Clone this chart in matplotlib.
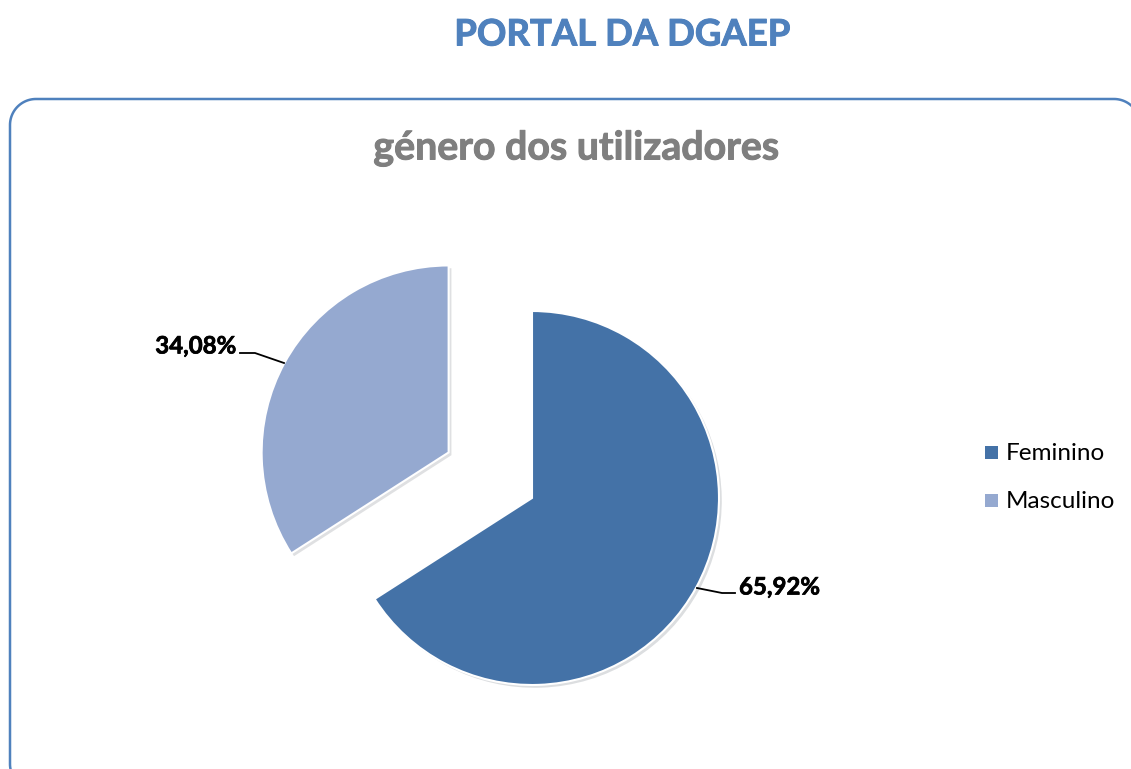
import matplotlib
matplotlib.use("Agg")
import numpy as np
import matplotlib.pyplot as plt
from matplotlib.patches import Rectangle
import matplotlib.patheffects as pe

# data
categories = ["Feminino", "Masculino"]
values = [65.92, 34.08]
value_labels = ["65,92%", "34,08%"]
colors = ["#4472A7", "#95A9D0"]

W, H = 1131, 769
fig = plt.figure(figsize=(W / 100, H / 100), dpi=100)
ax = fig.add_axes([0, 0, 1, 1])


def py(y):
    return H - y


FONT = ["Lato", "DejaVu Sans"]


def bold_fx(color, lw=0.6):
    return [pe.withStroke(linewidth=lw, foreground=color)]


# pie
cx, cy, r = 532, py(498), 187
wedges, _ = ax.pie(values, colors=colors, startangle=90, counterclock=False,
                   center=(cx, cy), radius=r, explode=[0, 95],
                   wedgeprops=dict(edgecolor="white", linewidth=1.5),
                   frame=True)
for w in wedges:
    w.set_path_effects([pe.SimplePatchShadow(offset=(2, -2), alpha=0.15),
                        pe.Normal()])
ax.set_xlim(0, W)
ax.set_ylim(0, H)
ax.set_aspect("auto")
ax.axis("off")

# outer title
ax.text(622, py(35), "PORTAL DA DGAEP", ha="center", va="center",
        fontsize=26.3, fontweight="bold", color="#4F81BD", family=FONT,
        path_effects=bold_fx("#4F81BD", 0.7))

# rounded frame as one continuous polyline
FC = "#4F81BD"
left, top, right, bottom, rad = 10, 99, 1140, 790, 26


def corner(xc, yc, a0, a1):
    t = np.radians(np.linspace(a0, a1, 30))
    return list(xc + rad * np.cos(t)), list(yc + rad * np.sin(t))


xs, ys = [], []
for (xc, yc, a0, a1) in [
    (right - rad, py(bottom - rad), 270, 360),
    (right - rad, py(top + rad), 0, 90),
    (left + rad, py(top + rad), 90, 180),
    (left + rad, py(bottom - rad), 180, 270),
]:
    a, b = corner(xc, yc, a0, a1)
    xs += a
    ys += b
xs.append(xs[0])
ys.append(ys[0])
ax.plot(xs, ys, color=FC, lw=1.8, clip_on=True, solid_joinstyle="round")

# chart title
ax.text(576, py(148), "género dos utilizadores", ha="center", va="center",
        fontsize=28.3, fontweight="bold", color="#7F7F7F", family=FONT,
        path_effects=bold_fx("#7F7F7F", 0.7))

# data labels with leader lines
ax.plot([697, 722, 735], [py(588), py(593), py(593)], color="black", lw=1.3)
ax.text(739, py(587), value_labels[0], ha="left", va="center",
        fontsize=17.3, fontweight="bold", color="black", family=FONT,
        path_effects=bold_fx("black", 0.5))
ax.plot([240, 255, 284], [py(353), py(353), py(363)], color="black", lw=1.3)
ax.text(236, py(346), value_labels[1], ha="right", va="center",
        fontsize=17.3, fontweight="bold", color="black", family=FONT,
        path_effects=bold_fx("black", 0.5))

# legend
for i, (cat, col) in enumerate(zip(categories, colors)):
    yy = 452 + i * 48
    ax.add_patch(Rectangle((985, py(yy) - 6.5), 13, 13, facecolor=col,
                           edgecolor="none"))
    ax.text(1006, py(yy) - 1, cat, ha="left", va="center", fontsize=17.5,
            color="black", family=FONT)

fig.savefig("out.png", dpi=100)
